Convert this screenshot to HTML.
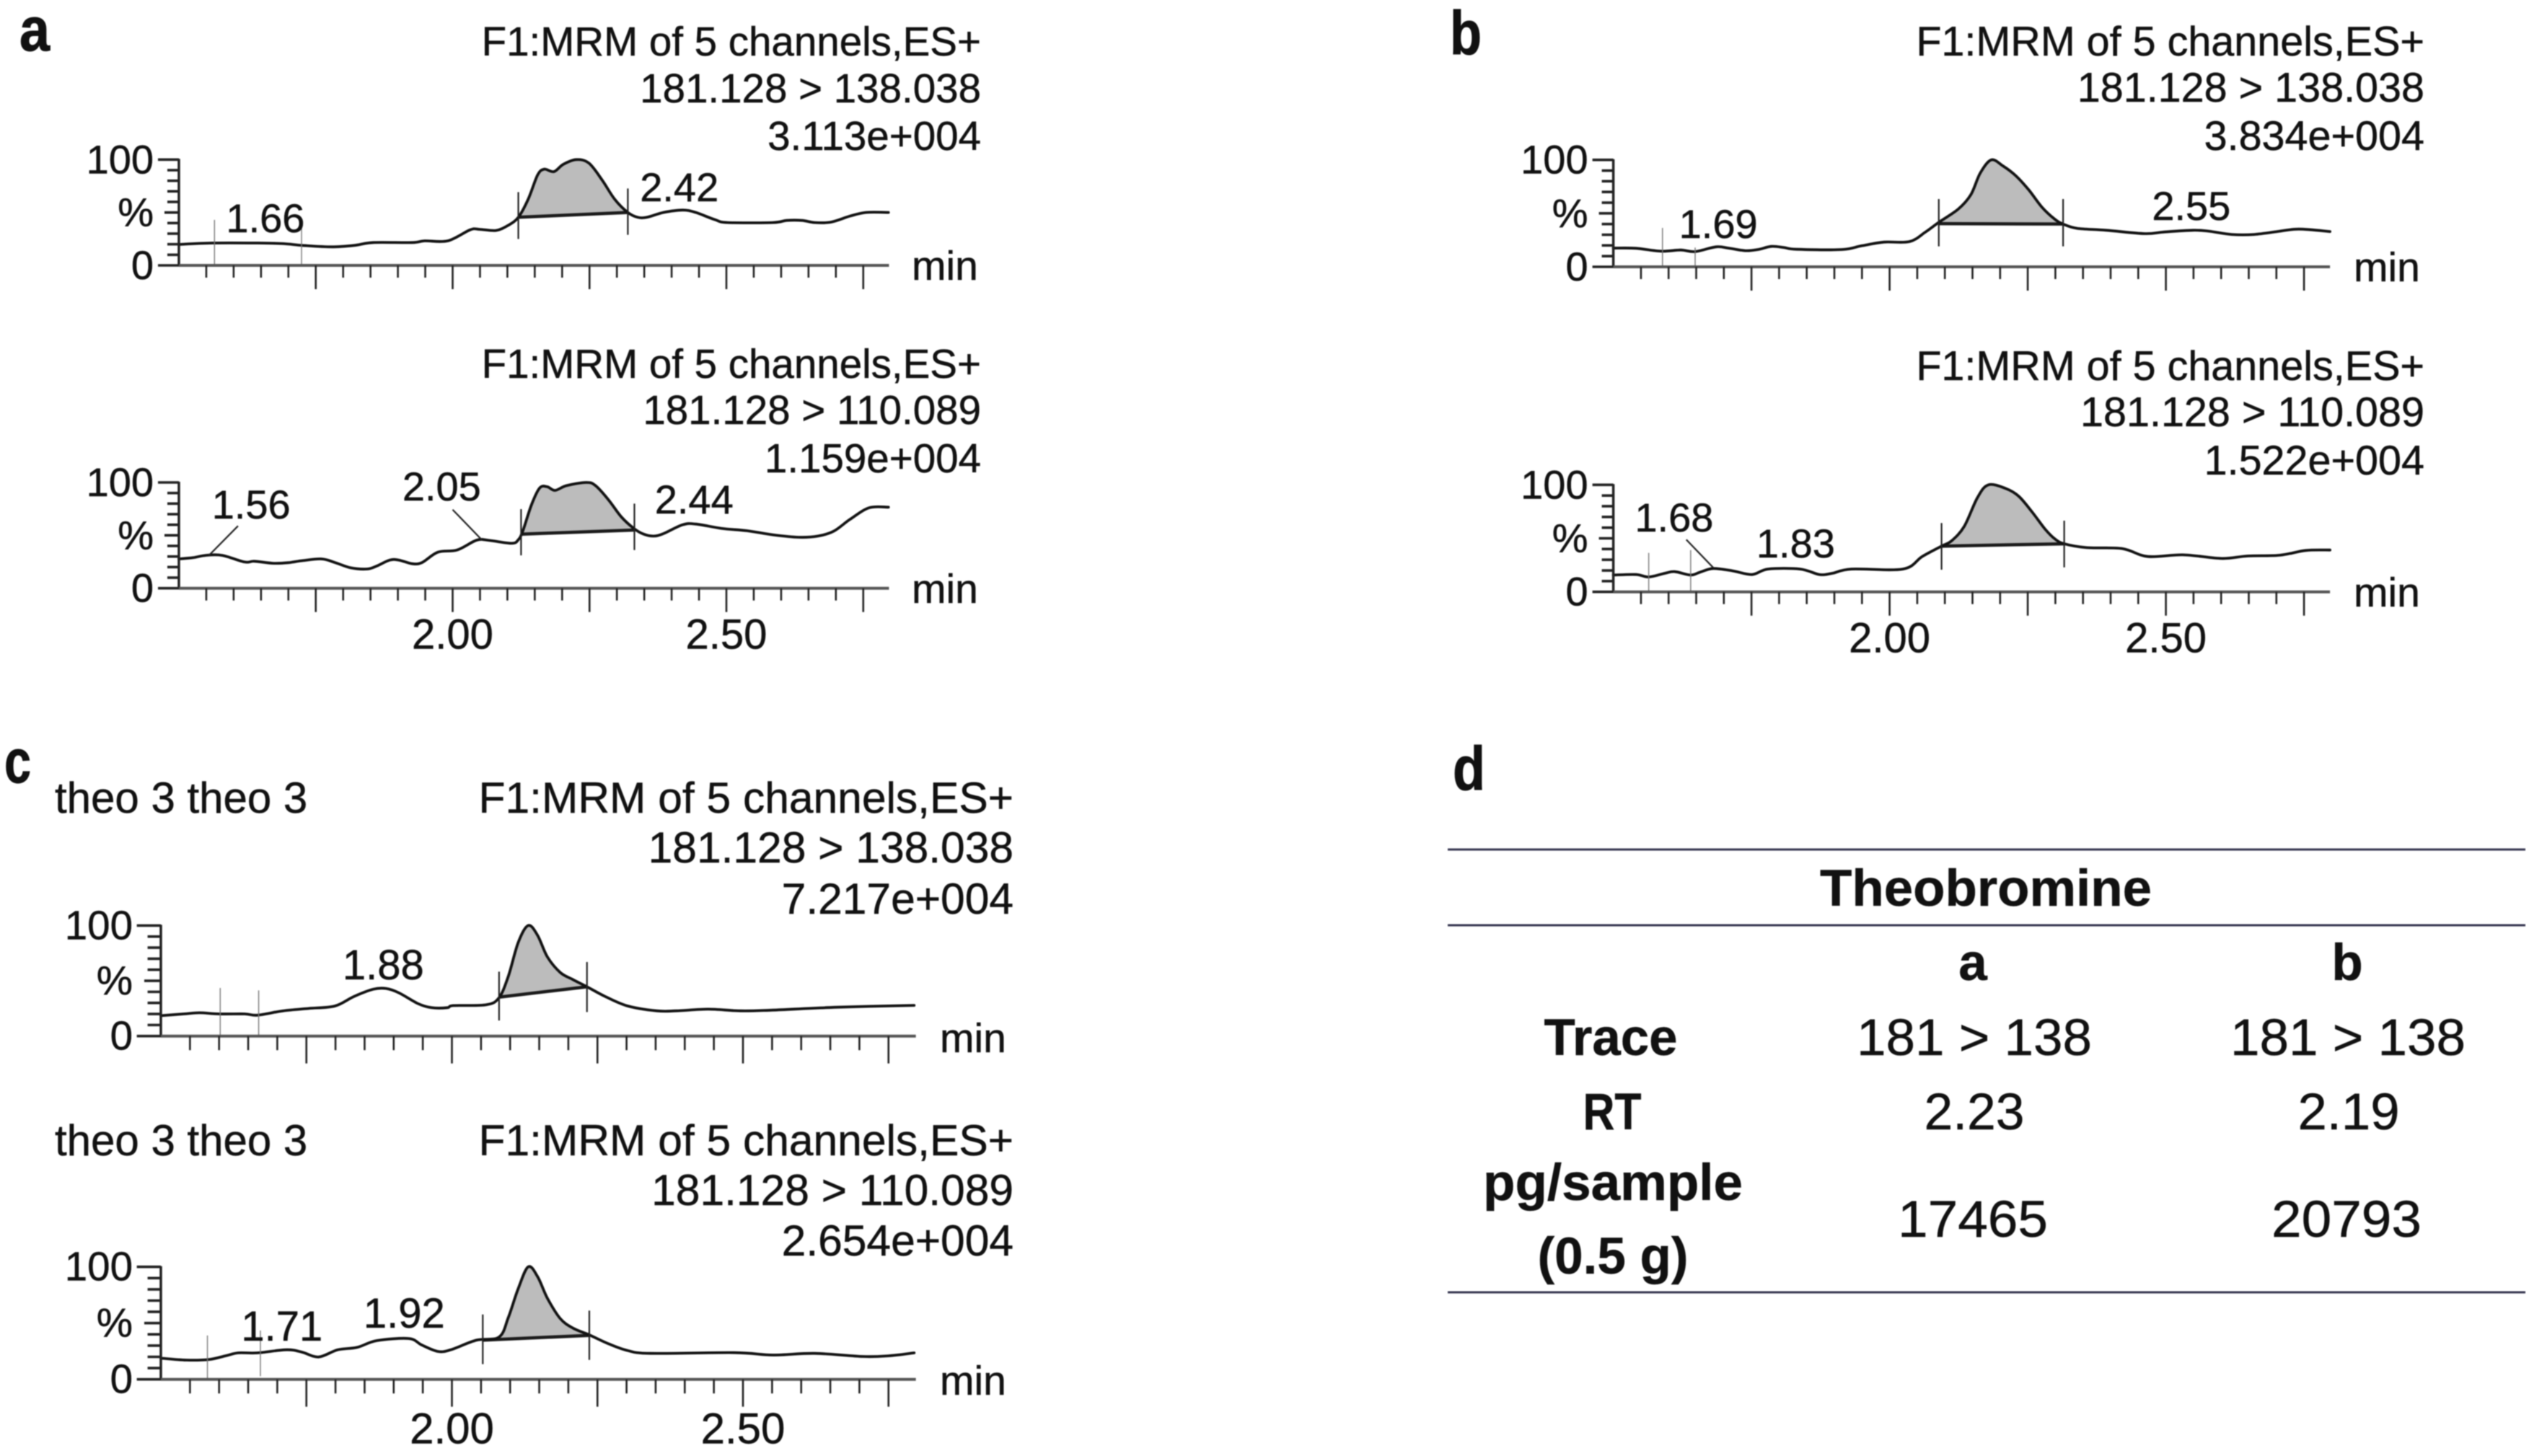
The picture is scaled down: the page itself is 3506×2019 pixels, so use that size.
<!DOCTYPE html>
<html lang="en">
<head>
<meta charset="utf-8">
<title>Theobromine MRM chromatograms</title>
<style>
html,body{margin:0;padding:0;background:#fff;}
svg{display:block;filter:blur(0.7px);}
text{font-family:"Liberation Sans",Arial,sans-serif;fill:#111;stroke:#111;stroke-width:.5px;}
.hdr{font-size:56.5px;text-anchor:end;}
.hdrb{font-size:57.5px;text-anchor:end;}
.hdrc{font-size:60.5px;text-anchor:end;}
.theo{font-size:60px;}
.min{font-size:57px;}
.pl{font-size:85px;font-weight:700;stroke-width:1px;}
.tb{font-size:71px;text-anchor:middle;}
.tbb{font-size:71px;font-weight:700;text-anchor:middle;}
</style>
</head>
<body>
<svg id="figure" xmlns="http://www.w3.org/2000/svg" width="3506" height="2019" viewBox="0 0 3506 2019">
  <rect width="3506" height="2019" fill="#fff"/>

  <text class="pl" x="27" y="70" textLength="42" lengthAdjust="spacingAndGlyphs">a</text>
  <text class="pl" x="2010" y="75" textLength="44" lengthAdjust="spacingAndGlyphs">b</text>
  <text class="pl" x="6" y="1085" textLength="37" lengthAdjust="spacingAndGlyphs">c</text>
  <text class="pl" x="2014" y="1095" textLength="45" lengthAdjust="spacingAndGlyphs">d</text>

  <g>
    <text class="hdr" x="1360" y="77">F1:MRM of 5 channels,ES+</text>
    <text class="hdr" x="1360" y="142">181.128 &gt; 138.038</text>
    <text class="hdr" x="1360" y="208">3.113e+004</text>
  </g>
  <g>
    <text class="hdr" x="1360" y="524">F1:MRM of 5 channels,ES+</text>
    <text class="hdr" x="1360" y="588">181.128 &gt; 110.089</text>
    <text class="hdr" x="1360" y="655">1.159e+004</text>
  </g>
  <g>
    <text class="hdrb" x="3361" y="77">F1:MRM of 5 channels,ES+</text>
    <text class="hdrb" x="3361" y="141">181.128 &gt; 138.038</text>
    <text class="hdrb" x="3361" y="208">3.834e+004</text>
  </g>
  <g>
    <text class="hdrb" x="3361" y="527">F1:MRM of 5 channels,ES+</text>
    <text class="hdrb" x="3361" y="591">181.128 &gt; 110.089</text>
    <text class="hdrb" x="3361" y="658">1.522e+004</text>
  </g>
  <g>
    <text class="theo" x="76" y="1127">theo 3 theo 3</text>
    <text class="hdrc" x="1405" y="1127">F1:MRM of 5 channels,ES+</text>
    <text class="hdrc" x="1405" y="1196">181.128 &gt; 138.038</text>
    <text class="hdrc" x="1405" y="1267">7.217e+004</text>
  </g>
  <g>
    <text class="theo" x="76" y="1602">theo 3 theo 3</text>
    <text class="hdrc" x="1405" y="1602">F1:MRM of 5 channels,ES+</text>
    <text class="hdrc" x="1405" y="1671">181.128 &gt; 110.089</text>
    <text class="hdrc" x="1405" y="1741">2.654e+004</text>
  </g>

  <g>
    <text class="min" x="1264" y="388">min</text>
    <text class="min" x="1264" y="836">min</text>
    <text class="min" x="3263" y="390">min</text>
    <text class="min" x="3263" y="841">min</text>
    <text class="min" x="1303" y="1459">min</text>
    <text class="min" x="1303" y="1934">min</text>
  </g>

  <g id="charts"></g>

  <g>
    <line x1="2007" x2="3501" y1="1178" y2="1178" stroke="#35354f" stroke-width="3"/>
    <line x1="2007" x2="3501" y1="1283" y2="1283" stroke="#35354f" stroke-width="3"/>
    <line x1="2007" x2="3501" y1="1792" y2="1792" stroke="#35354f" stroke-width="3"/>
    <text class="tbb" x="2753" y="1256" textLength="460" lengthAdjust="spacingAndGlyphs">Theobromine</text>
    <text class="tbb" x="2735" y="1359">a</text>
    <text class="tbb" x="3254" y="1359">b</text>
    <text class="tbb" x="2233" y="1463" textLength="185" lengthAdjust="spacingAndGlyphs">Trace</text>
    <text class="tb" x="2737" y="1463" textLength="326" lengthAdjust="spacingAndGlyphs">181 &gt; 138</text>
    <text class="tb" x="3255" y="1463" textLength="326" lengthAdjust="spacingAndGlyphs">181 &gt; 138</text>
    <text class="tbb" x="2235" y="1566" textLength="81" lengthAdjust="spacingAndGlyphs">RT</text>
    <text class="tb" x="2737" y="1566" textLength="139" lengthAdjust="spacingAndGlyphs">2.23</text>
    <text class="tb" x="3256" y="1566" textLength="141" lengthAdjust="spacingAndGlyphs">2.19</text>
    <text class="tbb" x="2236" y="1664" textLength="360" lengthAdjust="spacingAndGlyphs">pg/sample</text>
    <text class="tbb" x="2236" y="1766" textLength="209" lengthAdjust="spacingAndGlyphs">(0.5 g)</text>
    <text class="tb" x="2735" y="1715" textLength="208" lengthAdjust="spacingAndGlyphs">17465</text>
    <text class="tb" x="3253" y="1715" textLength="208" lengthAdjust="spacingAndGlyphs">20793</text>
  </g>
</svg>

<script>
/* ---------- shared axis labels ---------- */
const xTickTimes = [2.0, 2.5];
const xTickLabels = ['2.00', '2.50'];
const yTickValues = [100, 50, 0];
const yTickLabels = ['100', '%', '0'];

/* ---------- panel a, 181 > 138 ---------- */
const aTopTime = [1.5,1.561,1.644,1.691,1.726,1.779,1.82,1.855,1.926,1.949,1.991,2.032,2.049,2.079,2.102,2.12,2.138,2.155,2.167,2.185,2.202,2.226,2.249,2.273,2.296,2.32,2.338,2.355,2.385,2.42,2.444,2.479,2.502,2.585,2.61,2.638,2.661,2.691,2.726,2.755,2.796];
const aTopIntensity = [19.8,21.1,21.1,20.5,18.9,17.5,18.9,21.6,21.6,23.2,23.2,33.6,34.1,33,38,45.5,62.5,85.2,90.9,88.6,95.5,100,96.6,80.7,62.5,50,45.5,45.5,50,52.3,50,43.2,40.5,40.5,42.5,42.5,40.5,40.9,46.6,50,50];
const aTopWindow = [2.12,45.5,2.32,50];
const aTopDrops = [[69.3,25],[72.7,28.9]];
const aTopGuides = [[1.565,43,0],[1.724,38.6,0]];
const aTopPeakLabels = ['1.66','2.42'];
const aTopPeakTimes = [1.658,2.414];
const aTopPeakHeights = [31.4,60.7];
const aTopLeaders = [];

/* ---------- panel a, 181 > 110 ---------- */
const aBottomTime = [1.5,1.526,1.549,1.579,1.62,1.638,1.673,1.702,1.726,1.761,1.785,1.814,1.844,1.861,1.885,1.902,1.926,1.944,1.973,2.008,2.044,2.067,2.108,2.12,2.128,2.144,2.159,2.173,2.187,2.208,2.244,2.261,2.285,2.308,2.332,2.349,2.367,2.385,2.42,2.444,2.491,2.538,2.585,2.632,2.667,2.696,2.726,2.761,2.796];
const aBottomIntensity = [27.7,28.9,31.1,31.1,24.8,25.5,23.6,24.3,26.1,27.7,24.3,19.3,18.2,20.9,26.6,26.6,23.2,24.3,34.1,36.1,45.5,45.2,42.5,45.9,53.9,78.9,94.8,95.9,92.5,97,100,97,83.4,67.5,56.1,51.1,49.3,51.6,60,60.7,56.6,54.3,50.5,48.2,49.3,53.9,65.2,76.1,76.6];
const aBottomWindow = [2.125,51.1,2.332,55];
const aBottomDrops = [[74.8,31.1],[80,36.1]];
const aBottomGuides = [];
const aBottomPeakLabels = ['1.56','2.05','2.44'];
const aBottomPeakTimes = [1.632,1.98,2.441];
const aBottomPeakHeights = [65.9,83,70.7];
const aBottomLeaders = [[1.608,58.9,1.555,31.1],[2.0,74.3,2.053,45.9]];

/* ---------- panel b, 181 > 138 ---------- */
const bTopTime = [1.5,1.541,1.587,1.622,1.648,1.686,1.71,1.739,1.762,1.786,1.809,1.832,1.914,1.949,1.99,2.036,2.065,2.089,2.124,2.147,2.164,2.184,2.205,2.228,2.252,2.275,2.298,2.314,2.339,2.392,2.462,2.497,2.549,2.578,2.619,2.66,2.706,2.741,2.797];
const bTopIntensity = [17.5,17.3,14.6,15.7,14.2,18.7,17.3,15.1,16.2,19.1,18,16.4,16.2,19.6,23.1,23.6,32.6,41.6,53.9,67.4,87.6,100,94.4,85.4,71.9,56.2,44.9,40,36,34.2,31,32.6,34.2,33.3,30.3,30.3,33.3,35.3,33];
const bTopWindow = [2.089,40.4,2.314,40];
const bTopDrops = [[63.4,19.1],[63.4,19.1]];
const bTopGuides = [[1.589,36.4,0],[1.648,18,0]];
const bTopPeakLabels = ['1.69','2.55'];
const bTopPeakTimes = [1.69,2.546];
const bTopPeakHeights = [27,43.8];
const bTopLeaders = [];

/* ---------- panel b, 181 > 110 ---------- */
const bBottomTime = [1.5,1.541,1.564,1.593,1.611,1.64,1.657,1.681,1.716,1.751,1.78,1.838,1.873,1.896,1.931,2.024,2.059,2.094,2.112,2.135,2.159,2.179,2.211,2.234,2.258,2.281,2.298,2.316,2.357,2.421,2.467,2.531,2.601,2.648,2.706,2.753,2.797];
const bBottomIntensity = [15.7,16.2,13.9,17.3,18.9,15.7,18.4,21.8,19.6,16.2,21.3,21.3,16.2,17.3,21.3,21.3,33,42.7,47.6,61.1,88.1,100,96.4,89.2,74.6,58.9,49.9,44.9,41.3,40.4,33,34.6,31.2,33.5,34.2,38.7,39.1];
const bBottomWindow = [2.094,42.7,2.316,44.9];
const bBottomDrops = [[64.3,20.7],[66.5,22.9]];
const bBottomGuides = [[1.564,36.4,0],[1.64,39,0]];
const bBottomPeakLabels = ['1.68','1.83'];
const bBottomPeakTimes = [1.61,1.83];
const bBottomPeakHeights = [56.4,32.1];
const bBottomLeaders = [[1.632,48.8,1.681,22.5]];

/* ---------- panel c, 181 > 138 ---------- */
const cTopTime = [1.5,1.539,1.566,1.6,1.644,1.666,1.71,1.754,1.799,1.832,1.865,1.887,1.909,1.942,1.965,1.992,2.003,2.059,2.081,2.097,2.114,2.131,2.147,2.164,2.186,2.208,2.232,2.263,2.302,2.352,2.385,2.44,2.496,2.551,2.662,2.794];
const cTopIntensity = [18.5,20,21.1,20,20,18.9,22.8,25,27.2,35.9,42.4,43,39.1,29.3,25.7,25.7,27.6,28.3,34.8,54.3,84.8,100,91.3,71.7,57.6,51.1,44.6,35.9,27.2,22.8,22.8,24.3,22.8,23.5,26.1,27.8];
const cTopWindow = [2.081,35.2,2.232,44.6];
const cTopDrops = [[58.3,14.1],[67,21.7]];
const cTopGuides = [[1.602,43.5,0],[1.668,41.3,0]];
const cTopPeakLabels = ['1.88'];
const cTopPeakTimes = [1.882];
const cTopPeakHeights = [51.3];
const cTopLeaders = [];

/* ---------- panel c, 181 > 110 ---------- */
const cBottomTime = [1.5,1.544,1.583,1.611,1.633,1.666,1.716,1.743,1.771,1.804,1.837,1.871,1.926,1.948,1.976,1.998,2.042,2.081,2.097,2.114,2.131,2.147,2.164,2.186,2.208,2.236,2.269,2.302,2.341,2.485,2.551,2.623,2.706,2.75,2.794];
const cBottomIntensity = [18.8,17.1,17.7,20.9,23.5,23.5,26.3,24.1,19.9,26.3,28.4,34.4,36.3,30.6,24.8,26.3,34.8,37.6,55.1,80.8,100,91.5,72.2,54.1,45.5,39.5,31.6,25.6,23.1,23.7,21.6,23.1,20.3,20.9,23.5];
const cBottomWindow = [2.053,34.8,2.236,39.1];
const cBottomDrops = [[57.7,13.5],[61.1,17.3]];
const cBottomGuides = [[1.58,39,0],[1.671,43.4,2.8]];
const cBottomPeakLabels = ['1.71','1.92'];
const cBottomPeakTimes = [1.708,1.918];
const cBottomPeakHeights = [34.4,46];
const cBottomLeaders = [];

/* ---------- layout (pixels live here, not in the data) ---------- */
const layoutA = {left:248, pxPerMin:759, k:1, labelFont:56, tickFont:56, xFont:58, xOffset:84, labelRight:-35};
const layoutB = {left:2236.6, pxPerMin:766, k:1, labelFont:56, tickFont:56, xFont:58, xOffset:84, labelRight:-35};
const layoutC = {left:223, pxPerMin:807, k:1.15, labelFont:58, tickFont:56.5, xFont:60, xOffset:89, labelRight:-39};

const panels = [
  {layout:layoutA, y0:368, yPx:1.467, xLabels:false, time:aTopTime, intensity:aTopIntensity, win:aTopWindow, drops:aTopDrops, guides:aTopGuides, labels:aTopPeakLabels, labelTimes:aTopPeakTimes, labelHeights:aTopPeakHeights, leaders:aTopLeaders},
  {layout:layoutA, y0:815.7, yPx:1.467, xLabels:true, time:aBottomTime, intensity:aBottomIntensity, win:aBottomWindow, drops:aBottomDrops, guides:aBottomGuides, labels:aBottomPeakLabels, labelTimes:aBottomPeakTimes, labelHeights:aBottomPeakHeights, leaders:aBottomLeaders},
  {layout:layoutB, y0:370, yPx:1.483, xLabels:false, time:bTopTime, intensity:bTopIntensity, win:bTopWindow, drops:bTopDrops, guides:bTopGuides, labels:bTopPeakLabels, labelTimes:bTopPeakTimes, labelHeights:bTopPeakHeights, leaders:bTopLeaders},
  {layout:layoutB, y0:820.7, yPx:1.484, xLabels:true, time:bBottomTime, intensity:bBottomIntensity, win:bBottomWindow, drops:bBottomDrops, guides:bBottomGuides, labels:bBottomPeakLabels, labelTimes:bBottomPeakTimes, labelHeights:bBottomPeakHeights, leaders:bBottomLeaders},
  {layout:layoutC, y0:1436.7, yPx:1.533, xLabels:false, time:cTopTime, intensity:cTopIntensity, win:cTopWindow, drops:cTopDrops, guides:cTopGuides, labels:cTopPeakLabels, labelTimes:cTopPeakTimes, labelHeights:cTopPeakHeights, leaders:cTopLeaders},
  {layout:layoutC, y0:1912.7, yPx:1.56, xLabels:true, time:cBottomTime, intensity:cBottomIntensity, win:cBottomWindow, drops:cBottomDrops, guides:cBottomGuides, labels:cBottomPeakLabels, labelTimes:cBottomPeakTimes, labelHeights:cBottomPeakHeights, leaders:cBottomLeaders}
];

const T_START = 1.5;
const T_END = 2.797;
const NS = 'http://www.w3.org/2000/svg';
const root = document.getElementById('charts');

function make(tag, attrs, parent) {
  const el = document.createElementNS(NS, tag);
  for (const key in attrs) el.setAttribute(key, attrs[key]);
  parent.appendChild(el);
  return el;
}

function smooth(pts) {
  let d = '';
  for (let i = 0; i < pts.length - 1; i++) {
    const p0 = pts[Math.max(i - 1, 0)];
    const p1 = pts[i];
    const p2 = pts[i + 1];
    const p3 = pts[Math.min(i + 2, pts.length - 1)];
    const c1x = p1[0] + (p2[0] - p0[0]) / 6;
    const c1y = p1[1] + (p2[1] - p0[1]) / 6;
    const c2x = p2[0] - (p3[0] - p1[0]) / 6;
    const c2y = p2[1] - (p3[1] - p1[1]) / 6;
    d += ' C' + c1x.toFixed(1) + ' ' + c1y.toFixed(1) + ' ' + c2x.toFixed(1) + ' ' + c2y.toFixed(1) + ' ' + p2[0].toFixed(1) + ' ' + p2[1].toFixed(1);
  }
  return d;
}

function interp(times, values, t) {
  for (let i = 0; i < times.length - 1; i++) {
    if (t >= times[i] && t <= times[i + 1]) {
      const f = (t - times[i]) / (times[i + 1] - times[i]);
      return values[i] + f * (values[i + 1] - values[i]);
    }
  }
  return values[values.length - 1];
}

panels.forEach(function (p) {
  const L = p.layout;
  const X = function (t) { return L.left + (t - T_START) * L.pxPerMin; };
  const Y = function (v) { return p.y0 - v * p.yPx; };

  const g = make('g', {}, root);
  
  

  /* integrated peak fill */
  const t0 = p.win[0];
  const t1 = p.win[2];
  const area = [[X(t0), Y(interp(p.time, p.intensity, t0))]];
  p.time.forEach(function (t, i) {
    if (t > t0 && t < t1) area.push([X(t), Y(p.intensity[i])]);
  });
  area.push([X(t1), Y(interp(p.time, p.intensity, t1))]);
  const fill = make('path', {
    d: 'M' + area[0][0] + ' ' + area[0][1] + smooth(area) + ' L' + X(t1) + ' ' + Y(p.win[3]) + ' L' + X(t0) + ' ' + Y(p.win[1]) + ' Z',
    fill: '#bcbcbc', stroke: 'none'
  }, g);
  
  

  /* integration baseline */
  const base = make('line', {
    x1: X(t0), y1: Y(p.win[1]), x2: X(t1), y2: Y(p.win[3]),
    stroke: '#1a1a1a', 'stroke-width': 4.5
  }, g);
  
  

  /* trace */
  const pts = p.time.map(function (t, i) { return [X(t), Y(p.intensity[i])]; });
  const trace = make('path', {
    d: 'M' + pts[0][0] + ' ' + pts[0][1] + smooth(pts),
    fill: 'none', stroke: '#111', 'stroke-width': 3.8, 'stroke-linejoin': 'round', 'stroke-linecap': 'round'
  }, g);
  
  

  /* integration drop lines */
  [t0, t1].forEach(function (t, i) {
    const drop = make('line', {
      x1: X(t), x2: X(t), y1: Y(p.drops[i][0]), y2: Y(p.drops[i][1]),
      stroke: '#222', 'stroke-width': 2.2
    }, g);
    
    
  });

  /* thin guide lines */
  p.guides.forEach(function (c) {
    const guide = make('line', {
      x1: X(c[0]), x2: X(c[0]), y1: Y(c[1]), y2: Y(c[2]),
      stroke: '#777', 'stroke-width': 1.4
    }, g);
    
    
  });

  /* leader lines */
  p.leaders.forEach(function (c) {
    const leader = make('line', {
      x1: X(c[0]), y1: Y(c[1]), x2: X(c[2]), y2: Y(c[3]),
      stroke: '#222', 'stroke-width': 2.2
    }, g);
    
    
  });

  /* peak labels */
  p.labels.forEach(function (s, i) {
    const lab = make('text', {
      x: X(p.labelTimes[i]), y: Y(p.labelHeights[i]),
      'text-anchor': 'middle', 'font-size': L.labelFont
    }, g);
    lab.textContent = s;
    
    
  });

  /* y axis */
  const yAxis = make('line', {
    x1: L.left, x2: L.left, y1: Y(100) - 1, y2: Y(0) + 1,
    stroke: '#222', 'stroke-width': 3.5
  }, g);
  
  

  for (let k = 0; k <= 10; k++) {
    const len = (k === 0 || k === 10 ? 29 : k === 5 ? 20 : 16) * L.k;
    const tick = make('line', {
      x1: L.left - len, x2: L.left, y1: Y(k * 10), y2: Y(k * 10),
      stroke: '#222', 'stroke-width': 3.6
    }, g);
    
    
  }

  yTickLabels.forEach(function (s, i) {
    const ty = make('text', {
      x: L.left + L.labelRight, y: Y(yTickValues[i]) + 19,
      'text-anchor': 'end', 'font-size': L.tickFont
    }, g);
    ty.textContent = s;
    
    
  });

  /* x axis */
  const xAxis = make('line', {
    x1: L.left, x2: X(T_END), y1: Y(0), y2: Y(0),
    stroke: '#555', 'stroke-width': 4
  }, g);
  
  

  for (let k = 31; k <= 55; k++) {
    const len = (k % 5 === 0 ? 33 : 17) * L.k;
    const tx = X(k * 0.05);
    const tick = make('line', {
      x1: tx, x2: tx, y1: Y(0), y2: Y(0) + len,
      stroke: '#222', 'stroke-width': 2.6
    }, g);
    
    
  }

  if (p.xLabels) {
    xTickLabels.forEach(function (s, i) {
      const tl = make('text', {
        x: X(xTickTimes[i]), y: Y(0) + L.xOffset,
        'text-anchor': 'middle', 'font-size': L.xFont
      }, g);
      tl.textContent = s;
      
      
    });
  }
});
</script>
</body>
</html>
